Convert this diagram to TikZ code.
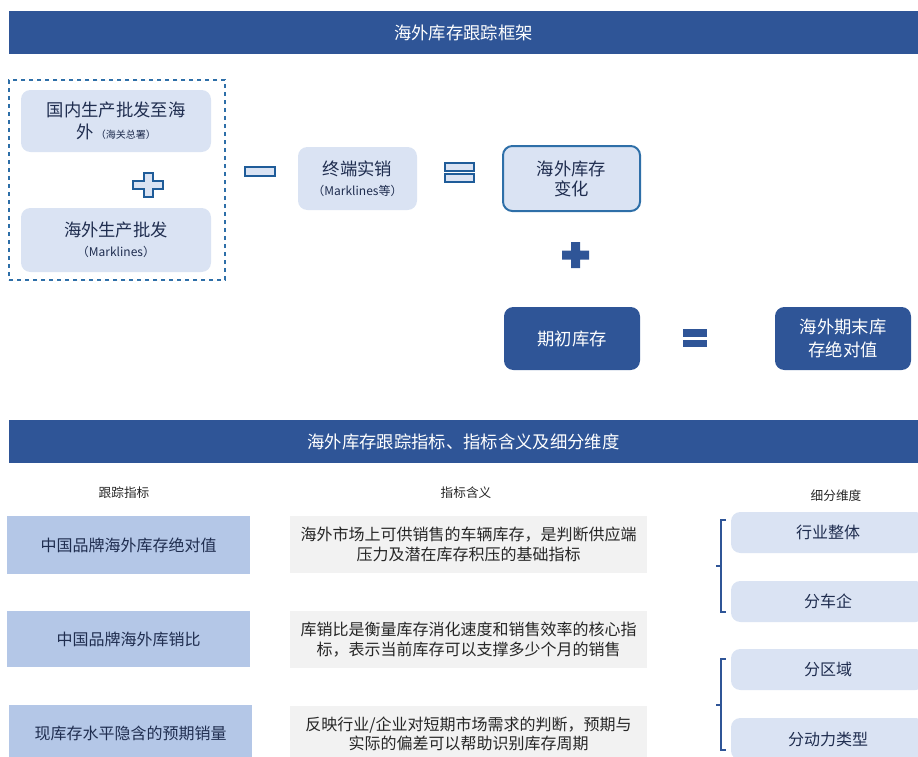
\documentclass[tikz,border=0pt]{standalone}
\usepackage{fontspec}
\setmainfont{Noto Sans CJK SC}
\definecolor{dkblue}{HTML}{2F5597}
\definecolor{ltblue}{HTML}{DAE3F3}
\definecolor{mdblue}{HTML}{B4C7E7}
\definecolor{gry}{HTML}{F2F2F2}
\definecolor{opblue}{HTML}{1F5C99}
\definecolor{bdblue}{HTML}{2E6FA8}
\definecolor{txtnavy}{HTML}{1F2D4F}
\definecolor{txtgray}{HTML}{262626}
\begin{document}
\begin{tikzpicture}[x=0.75pt,y=-0.75pt,
  sz/.style 2 args={minimum width={#1*0.75pt}, minimum height={#2*0.75pt}},
  bar/.style={fill=dkblue, draw=none, text=white, inner sep=0pt, font=\fontsize{13}{16}\selectfont},
  lbox/.style={fill=ltblue, draw=none, rounded corners=7pt, text=txtnavy, align=center, inner sep=0pt, font=\fontsize{13}{17}\selectfont},
  dbox/.style={fill=dkblue, draw=none, rounded corners=7pt, text=white, align=center, inner sep=0pt, font=\fontsize{13}{17}\selectfont},
  mbox/.style={fill=mdblue, draw=none, text=txtnavy, align=center, inner sep=0pt, font=\fontsize{12}{15}\selectfont},
  gbox/.style={fill=gry, draw=none, text=txtgray, align=center, inner sep=0pt, font=\fontsize{12}{14.5}\selectfont},
  rbox/.style={fill=ltblue, draw=none, rounded corners=7pt, text=txtnavy, align=center, inner sep=0pt, font=\fontsize{12}{15}\selectfont},
  colhead/.style={text=txtgray, inner sep=0pt, font=\fontsize{9.5}{12}\selectfont},
  opout/.style={fill=ltblue, draw=opblue, line width=1.5pt},
  opfill/.style={fill=dkblue, draw=none},
  bracel/.style={draw=dkblue, line width=1.3pt}
]
\useasboundingbox (0,0) rectangle (918,757);
\clip (0,0) rectangle (918,757);

% header 1
\node[bar, sz={909}{43}] (t1) at (463.5,32.5) {海外库存跟踪框架};

% dashed group
\node[draw=bdblue, dashed, line width=1.2pt, sz={216}{200}, inner sep=0pt] (grp) at (117,180) {};
\node[lbox, sz={190}{62}] (A) at (116,121) {国内生产批发至海\\外{\fontsize{7.5}{9}\selectfont\ （海关总署）}};
\node[lbox, sz={190}{64}] (B) at (116,240) {海外生产批发\\[-2pt]{\fontsize{9}{11}\selectfont （Marklines）}};

% outlined plus
\draw[opout] (143.5,173) -- (152.5,173) -- (152.5,181) -- (163,181) -- (163,189) -- (152.5,189) -- (152.5,197) -- (143.5,197) -- (143.5,189) -- (133,189) -- (133,181) -- (143.5,181) -- cycle;

% minus
\draw[opout] (245,167) rectangle (275,176);

\node[lbox, sz={119}{63}] (C) at (357.5,178.5) {终端实销\\[-2pt]{\fontsize{9}{11}\selectfont （Marklines等）}};

% outlined equals
\draw[opout] (445,163) rectangle (474,171);
\draw[opout] (445,174) rectangle (474,182);

\node[lbox, draw=bdblue, line width=1.5pt, sz={137}{65}, font=\fontsize{13}{15}\selectfont] (D) at (571.5,178.5) {海外库存\\变化};

% filled plus
\path[opfill] (571,242) -- (580,242) -- (580,250.5) -- (589,250.5) -- (589,259.5) -- (580,259.5) -- (580,268) -- (571,268) -- (571,259.5) -- (562,259.5) -- (562,250.5) -- (571,250.5) -- cycle;

\node[dbox, sz={136}{63}] (E) at (572,338.5) {期初库存};

% filled equals
\path[opfill] (683,329) rectangle (707,337);
\path[opfill] (683,340) rectangle (707,347);

\node[dbox, sz={136}{63}] (F) at (843,338.5) {海外期末库\\存绝对值};

% header 2
\node[bar, sz={909}{43}] (t2) at (463.5,441.5) {海外库存跟踪指标、指标含义及细分维度};

% column headers
\node[colhead] (h1) at (124,493) {跟踪指标};
\node[colhead] (h2) at (466,493) {指标含义};
\node[colhead] (h3) at (836,496) {细分维度};

% left indicator boxes
\node[mbox, sz={243}{58}] (L1) at (128.5,545) {中国品牌海外库存绝对值};
\node[mbox, sz={243}{56}] (L2) at (128.5,639) {中国品牌海外库销比};
\node[mbox, sz={243}{56}] (L3) at (130.5,733) {现库存水平隐含的预期销量};

% meaning boxes
\node[gbox, sz={357}{57}] (M1) at (468.5,544.5) {海外市场上可供销售的车辆库存，是判断供应端\\压力及潜在库存积压的基础指标};
\node[gbox, sz={357}{57}] (M2) at (468.5,639.5) {库销比是衡量库存消化速度和销售效率的核心指\\标，表示当前库存可以支撑多少个月的销售};
\node[gbox, sz={357}{56}] (M3) at (468.5,734) {反映行业/企业对短期市场需求的判断，预期与\\实际的偏差可以帮助识别库存周期};

% dimension boxes
\node[rbox, sz={194}{41}] (R1) at (828,532.5) {行业整体};
\node[rbox, sz={194}{41}] (R2) at (828,601.5) {分车企};
\node[rbox, sz={194}{41}] (R3) at (828,669.5) {分区域};
\node[rbox, sz={194}{42}] (R4) at (828,739) {分动力类型};

% braces
\draw[bracel] (725.5,520) -- (721,520) -- (721,612) -- (725.5,612);
\draw[bracel] (716,566) -- (721,566);
\draw[bracel] (725.5,659) -- (721,659) -- (721,750) -- (725.5,750);
\draw[bracel] (716,705) -- (721,705);
\end{tikzpicture}
\end{document}
